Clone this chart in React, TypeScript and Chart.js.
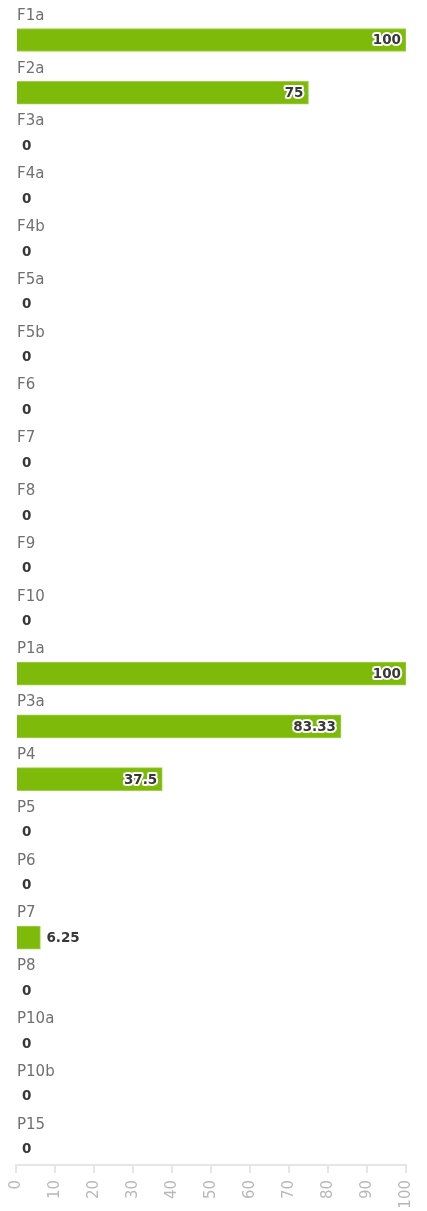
import React, { useEffect, useRef } from "react";
import { Chart, registerables } from "chart.js";

Chart.register(...registerables);

const categories = [
  "F1a", "F2a", "F3a", "F4a", "F4b", "F5a", "F5b", "F6", "F7", "F8", "F9", "F10",
  "P1a", "P3a", "P4", "P5", "P6", "P7", "P8", "P10a", "P10b", "P15",
];
const values = [
  100, 75, 0, 0, 0, 0, 0, 0, 0, 0, 0, 0,
  100, 83.33, 37.5, 0, 0, 6.25, 0, 0, 0, 0,
];
const xTicks = [0, 10, 20, 30, 40, 50, 60, 70, 80, 90, 100];

const FONT = "'DejaVu Sans', sans-serif";

const labelsPlugin = {
  id: "rowLabels",
  afterDatasetsDraw(chart: any) {
    const ctx = chart.ctx;
    const meta = chart.getDatasetMeta(0);
    const area = chart.chartArea;
    ctx.save();
    meta.data.forEach((bar: any, i: number) => {
      // category label above the bar
      ctx.font = `15px ${FONT}`;
      ctx.fillStyle = "#707070";
      ctx.textAlign = "left";
      ctx.textBaseline = "middle";
      ctx.fillText(categories[i], area.left + 1, bar.y - 24);

      // value label
      const v = values[i];
      const text = String(v);
      ctx.font = `bold 13.5px ${FONT}`;
      const w = ctx.measureText(text).width;
      const barW = bar.x - bar.base;
      let x: number;
      ctx.textAlign = "left";
      if (barW > w + 10) {
        x = bar.x - 5 - w;
      } else {
        x = bar.x + 6;
      }
      ctx.lineJoin = "round";
      ctx.lineWidth = 4;
      ctx.strokeStyle = "#ffffff";
      ctx.strokeText(text, x, bar.y + 1);
      ctx.fillStyle = "#383838";
      ctx.fillText(text, x, bar.y + 1);
    });
    ctx.restore();
  },
};

export default function App() {
  const ref = useRef<HTMLCanvasElement | null>(null);
  useEffect(() => {
    document.body.style.margin = "0";
    const data = values.map((v, i) => ({ x: v, y: i }));
    const chart = new Chart(ref.current as HTMLCanvasElement, {
      type: "bar",
      data: {
        labels: categories,
        datasets: [
          {
            data: data as any,
            backgroundColor: "#7dba0a",
            borderColor: "#9fcf48",
            borderWidth: 1,
            barThickness: 23,
          },
        ],
      },
      options: {
        indexAxis: "y",
        animation: false,
        responsive: false,
        maintainAspectRatio: false,
        layout: { padding: { left: 16, right: 21, top: 0, bottom: 0 } },
        plugins: { legend: { display: false }, tooltip: { enabled: false } },
        scales: {
          y: {
            type: "linear",
            reverse: true,
            offset: false,
            grace: 0,
            min: -0.757,
            max: 21.307,
            display: false,
          },
          x: {
            type: "linear",
            min: 0,
            max: 100,
            afterBuildTicks(scale: any) {
              scale.ticks = xTicks.map((v) => ({ value: v }));
            },
            afterFit(scale: any) {
              scale.height = 46;
              scale.paddingLeft = 0;
              scale.paddingRight = 0;
            },
            grid: {
              drawOnChartArea: false,
              drawTicks: true,
              tickLength: 8,
              color: "#e6e6e6",
              lineWidth: 2,
            },
            border: { display: true, color: "#e6e6e6", width: 2 },
            ticks: {
              minRotation: 90,
              maxRotation: 90,
              padding: 7,
              color: "#b8b8b8",
              font: { family: FONT, size: 15 },
            },
          },
        },
      },
      plugins: [labelsPlugin],
    });
    return () => chart.destroy();
  }, []);
  return (
    <div style={{ position: "absolute", left: 0, top: 0, width: 427, height: 1211 }}>
      <canvas ref={ref} width={427} height={1211} style={{ width: 427, height: 1211 }} />
    </div>
  );
}
